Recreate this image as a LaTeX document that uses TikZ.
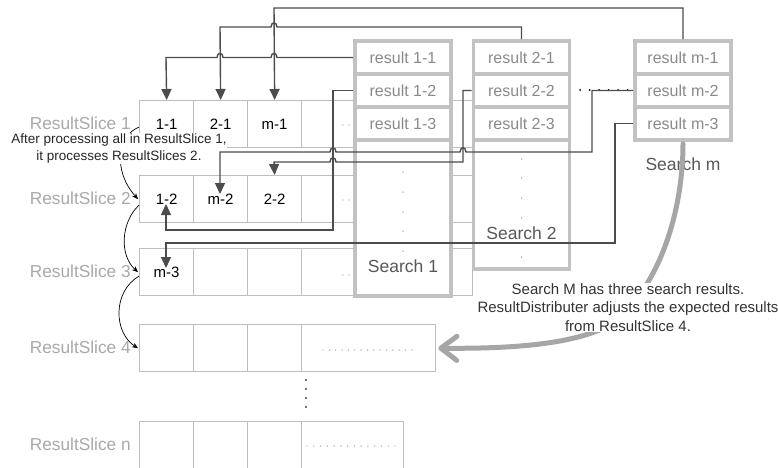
\documentclass[tikz,border=0pt]{standalone}
\usepackage{fontspec}
\setmainfont{Liberation Sans}
\usetikzlibrary{arrows.meta}
\definecolor{cellgray}{HTML}{BDBDBD}
\definecolor{boxgray}{HTML}{C2C2C2}
\definecolor{conncol}{HTML}{4C4C4C}
\definecolor{labgray}{HTML}{A9A9A9}
\definecolor{resgray}{HTML}{8A8A8A}
\definecolor{srchtxt}{HTML}{585858}
\definecolor{bigarr}{HTML}{A6A6A6}
\definecolor{dotgray}{HTML}{9A9A9A}
\begin{document}
\begin{tikzpicture}[x=1pt,y=-1pt,
  cell/.style={draw=cellgray, line width=1.3pt, minimum height=47pt, inner sep=0pt, anchor=north west, font=\fontsize{15}{17}\selectfont, text=black!90},
  c1/.style={cell, minimum width=54pt},
  slicelab/.style={anchor=east, text=labgray, font=\fontsize{17.3}{19}\selectfont, inner sep=0pt},
  rbox/.style={draw=boxgray, line width=3.6pt, fill=white, minimum width=96pt, minimum height=33pt, inner sep=0pt, text=resgray, font=\fontsize{16}{18}\selectfont},
  restbox/.style={draw=boxgray, line width=3.6pt, fill=white, minimum width=96pt, inner sep=0pt},
  srchlab/.style={text=srchtxt, font=\fontsize{17.5}{20}\selectfont, inner sep=0pt},
  conn/.style={draw=conncol, line width=1.4pt, line join=miter},
  connarr/.style={conn, -{Triangle[length=11pt,width=10pt]}},
  thin/.style={draw=black, line width=0.7pt, -{Stealth[length=6pt,width=5pt]}},
  note/.style={align=center, text=black!85, inner sep=0.5pt, fill=white}
]
\useasboundingbox (0,0) rectangle (778,467);
\fill[white] (0,0) rectangle (778,467);

% ---------- result slice rows ----------
\foreach \r/\y in {1/100,2/175,3/248,4/324,5/421}{
  \node[c1] (c\r1) at (139,\y) {};
  \node[c1] (c\r2) at (193,\y) {};
  \node[c1] (c\r3) at (247,\y) {};
}
\node[cell, minimum width=171pt] (c14) at (301,100) {};
\node[cell, minimum width=171pt] (c24) at (301,175) {};
\node[cell, minimum width=171pt] (c34) at (301,248) {};
\node[cell, minimum width=134pt] (c44) at (301,324) {};
\node[cell, minimum width=102pt] (c54) at (301,421) {};

\node[font=\fontsize{15}{17}\selectfont] (t11) at (c11.center) {1-1};
\node[font=\fontsize{15}{17}\selectfont] (t12) at (c12.center) {2-1};
\node[font=\fontsize{15}{17}\selectfont] (t13) at (c13.center) {m-1};
\node[font=\fontsize{15}{17}\selectfont] (t21) at (c21.center) {1-2};
\node[font=\fontsize{15}{17}\selectfont] (t22) at (c22.center) {m-2};
\node[font=\fontsize{15}{17}\selectfont] (t23) at (c23.center) {2-2};
\node[font=\fontsize{15}{17}\selectfont] (t31) at (c31.center) {m-3};

\node[slicelab] (s1) at (131,123) {ResultSlice 1};
\node[slicelab] (s2) at (131,198.5) {ResultSlice 2};
\node[slicelab] (s3) at (131,271.5) {ResultSlice 3};
\node[slicelab] (s4) at (131,347.5) {ResultSlice 4};
\node[slicelab] (s5) at (131,444.5) {ResultSlice n};

% dots in rows
\foreach \y in {125,200,275}{
  \fill[dotgray] (343,\y) circle (0.7) (349,\y) circle (0.7);
}
\foreach \i in {0,...,14}{ \fill[dotgray] (323+6.35*\i,350) circle (0.7); }
\foreach \i in {0,...,13}{ \fill[dotgray] (307+6.77*\i,446) circle (0.7); }
\foreach \y in {380,389,398,407}{ \fill[black!75] (306,\y) circle (1.1); }

% ---------- search boxes ----------
\node[restbox, minimum height=156pt] (b1) at (403,218) {};
\node[rbox] (r11) at (403,57.5) {result 1-1};
\node[rbox] (r12) at (403,90.5) {result 1-2};
\node[rbox] (r13) at (403,123.5) {result 1-3};
\node[srchlab] (l1) at (403,266) {Search 1};
\foreach \y in {172,192,212,231,251}{ \fill[dotgray] (403,\y) circle (0.75); }

\node[restbox, minimum height=129pt] (b2) at (521.5,204.5) {};
\node[rbox] (r21) at (521.5,57.5) {result 2-1};
\node[rbox] (r22) at (521.5,90.5) {result 2-2};
\node[rbox] (r23) at (521.5,123.5) {result 2-3};
\node[srchlab] (l2) at (521.5,233) {Search 2};
\foreach \y in {159,178,198,218,257}{ \fill[dotgray] (521.5,\y) circle (0.75); }

\node[rbox] (rm1) at (683,57.5) {result m-1};
\node[rbox] (rm2) at (683,90.5) {result m-2};
\node[rbox] (rm3) at (683,123.5) {result m-3};
\node[srchlab] (lm) at (683,164) {Search m};

\foreach \x in {580,589.5,599,608.5,618,627.5}{ \fill[black] (\x,90) circle (1); }

% ---------- thin process arrows ----------
\draw[thin] ([yshift=-3pt]c11.west) .. controls (118,135) and (112,170) .. ([xshift=-1pt]c21.west);
\node[note, font=\fontsize{13.5}{17}\selectfont] (n1) at (119,148.5) {After processing all in ResultSlice 1,\\it processes ResultSlices 2.};
\draw[thin] ([yshift=-6pt]c21.west) .. controls (121,222) and (119,255) .. ([xshift=-1pt]c31.west);
\draw[thin] ([yshift=-4pt]c31.west) .. controls (112,292) and (114,333) .. ([xshift=-1pt]c41.west);

% ---------- connectors ----------
\coordinate (a21) at (166,204);
\coordinate (a22) at (220,194);
\coordinate (a31) at (166,268);

\draw[connarr] (r11.west) -- (277,57.5) .. controls (277,52) and (271,52) .. (271,57.5)
  -- (223,57.5) .. controls (223,52) and (217,52) .. (217,57.5) -- (166,57.5) -- (c11.north);
\draw[connarr] (r21.north) -- (521.5,27) -- (277,27) .. controls (277,21.5) and (271,21.5) .. (271,27)
  -- (220,27) -- (c12.north);
\draw[connarr] (rm1.north) -- (683,8) -- (274,8) -- (c13.north);

\draw[connarr] (r12.west) -- (333,90.5) -- (333,230) -- (166,230) -- (a21);
\draw[connarr] (r22.west) -- (463,90.5) -- (463,162) -- (336,162) .. controls (336,156.5) and (330,156.5) .. (330,162)
  -- (274,162) -- (c23.north);
\draw[connarr] (rm2.west) -- (592,90.5) -- (592,152) -- (466,152) .. controls (466,146.5) and (460,146.5) .. (460,152)
  -- (336,152) .. controls (336,146.5) and (330,146.5) .. (330,152) -- (220,152) -- (a22);
\draw[connarr] (rm3.west) -- (615,123.5) -- (615,243) -- (166,243) -- (a31);

% ---------- big gray arrow ----------
\draw[draw=bigarr, line width=5pt, line cap=round,
  -{Straight Barb[length=16pt,width=24pt,line cap=round,line join=round]}]
  ([yshift=-2pt]rm3.south) .. controls (683,200) and (666,278) .. (615,322)
  .. controls (582,343) and (520,349) .. ([xshift=2pt]c44.east);
\node[note, font=\fontsize{15}{18.5}\selectfont, text=black!80] (n2) at (628,307.5)
  {Search M has three search results.\\ResultDistributer adjusts the expected results\\from ResultSlice 4.};
\end{tikzpicture}
\end{document}
